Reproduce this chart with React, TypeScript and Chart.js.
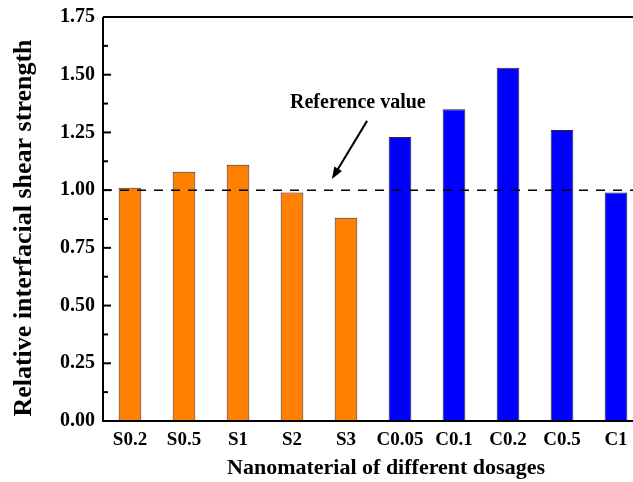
import React, { useEffect, useRef } from "react";
import { Chart, registerables } from "chart.js";

Chart.register(...registerables);

const categories = ["S0.2", "S0.5", "S1", "S2", "S3", "C0.05", "C0.1", "C0.2", "C0.5", "C1"];
const values = [1.01, 1.08, 1.11, 0.99, 0.88, 1.23, 1.35, 1.53, 1.26, 0.99];
const groups = ["S", "S", "S", "S", "S", "C", "C", "C", "C", "C"];
const groupColors: Record<string, string> = { S: "#FF8000", C: "#0000FF" };
const yMin = 0;
const yMax = 1.75;
const yStep = 0.25;
const referenceValue = 1.0;
const referenceLabel = "Reference value";
const labelPos = { x: 4.22, y: 1.377 };
const arrowFrom = { x: 4.39, y: 1.3 };
const arrowTo = { x: 3.74, y: 1.048 };
const xTitle = "Nanomaterial of different dosages";
const yTitle = "Relative interfacial shear strength";

const FONT = "'Liberation Serif', 'Times New Roman', serif";

export default function App() {
  const ref = useRef<HTMLCanvasElement | null>(null);
  useEffect(() => {
    if (!ref.current) return;
    const overlay = {
      id: "overlay",
      afterDatasetsDraw(chart: any) {
        const ctx = chart.ctx as CanvasRenderingContext2D;
        const { left, right, top, bottom } = chart.chartArea;
        const xs = chart.scales.x;
        const ys = chart.scales.y;
        ctx.save();
        // reference dashed line
        const yr = ys.getPixelForValue(referenceValue);
        ctx.strokeStyle = "#000";
        ctx.lineWidth = 1.5;
        ctx.setLineDash([9, 8]);
        ctx.beginPath();
        ctx.moveTo(left, yr);
        ctx.lineTo(right, yr);
        ctx.stroke();
        ctx.setLineDash([]);
        // frame
        ctx.lineWidth = 2;
        ctx.beginPath();
        ctx.moveTo(left, top);
        ctx.lineTo(right, top);
        ctx.moveTo(left, top);
        ctx.lineTo(left, bottom);
        ctx.lineTo(right, bottom);
        ctx.stroke();
        // inward ticks
        ctx.lineWidth = 2;
        for (let v = yMin; v <= yMax + 1e-9; v += yStep / 2) {
          const major = Math.abs(v / yStep - Math.round(v / yStep)) < 1e-6;
          const py = ys.getPixelForValue(v);
          ctx.beginPath();
          ctx.moveTo(left, py);
          ctx.lineTo(left + (major ? 8 : 5), py);
          ctx.stroke();
        }
        // annotation
        ctx.fillStyle = "#000";
        ctx.font = `bold 20px ${FONT}`;
        ctx.textAlign = "center";
        ctx.textBaseline = "middle";
        ctx.fillText(referenceLabel, xs.getPixelForValue(labelPos.x), ys.getPixelForValue(labelPos.y));
        const x1 = xs.getPixelForValue(arrowFrom.x);
        const y1 = ys.getPixelForValue(arrowFrom.y);
        const x2 = xs.getPixelForValue(arrowTo.x);
        const y2 = ys.getPixelForValue(arrowTo.y);
        const ang = Math.atan2(y2 - y1, x2 - x1);
        const hl = 12;
        const hw = 4.5;
        ctx.lineWidth = 2;
        ctx.beginPath();
        ctx.moveTo(x1, y1);
        ctx.lineTo(x2 - Math.cos(ang) * hl * 0.8, y2 - Math.sin(ang) * hl * 0.8);
        ctx.stroke();
        ctx.beginPath();
        ctx.moveTo(x2, y2);
        ctx.lineTo(x2 - Math.cos(ang) * hl - Math.sin(ang) * hw, y2 - Math.sin(ang) * hl + Math.cos(ang) * hw);
        ctx.lineTo(x2 - Math.cos(ang) * hl + Math.sin(ang) * hw, y2 - Math.sin(ang) * hl - Math.cos(ang) * hw);
        ctx.closePath();
        ctx.fill();
        // axis titles
        ctx.font = `bold 22px ${FONT}`;
        ctx.textAlign = "center";
        ctx.textBaseline = "middle";
        ctx.fillText(xTitle, 386, 468);
        ctx.font = `bold 26px ${FONT}`;
        ctx.translate(24, 228);
        ctx.rotate(-Math.PI / 2);
        ctx.fillText(yTitle, 0, 0);
        ctx.restore();
      },
    };
    const chart = new Chart(ref.current, {
      type: "bar",
      data: {
        labels: categories,
        datasets: [
          {
            data: values,
            backgroundColor: groups.map((g) => groupColors[g]),
            borderColor: "#2a2a2a",
            borderWidth: 1,
            barPercentage: 0.84,
            categoryPercentage: 0.5,
          },
        ],
      },
      options: {
        responsive: false,
        animation: false,
        layout: { padding: { top: 17, right: 17, left: 0, bottom: 0 } },
        plugins: { legend: { display: false }, tooltip: { enabled: false } },
        scales: {
          x: {
            grid: { display: false, drawTicks: false },
            border: { display: false },
            ticks: { color: "#000", font: { family: FONT, size: 19, weight: "bold" }, padding: 8, maxRotation: 0, autoSkip: false },
            afterFit: (s: any) => {
              s.height = 61;
            },
          },
          y: {
            min: yMin,
            max: yMax,
            grid: { display: false, drawTicks: false },
            border: { display: false },
            ticks: {
              stepSize: yStep,
              color: "#000",
              padding: 8,
              font: { family: FONT, size: 20, weight: "bold" },
              callback: (v: any) => Number(v).toFixed(2),
            },
            afterFit: (s: any) => {
              s.width = 103;
              s.paddingTop = 0;
              s.paddingBottom = 0;
            },
          },
        },
      },
      plugins: [overlay],
    });
    return () => chart.destroy();
  }, []);
  return (
    <div style={{ position: "fixed", left: 0, top: 0, width: 633, height: 482, overflow: "hidden", background: "#fff" }}>
      <canvas ref={ref} width={660} height={482} style={{ display: "block" }} />
    </div>
  );
}
